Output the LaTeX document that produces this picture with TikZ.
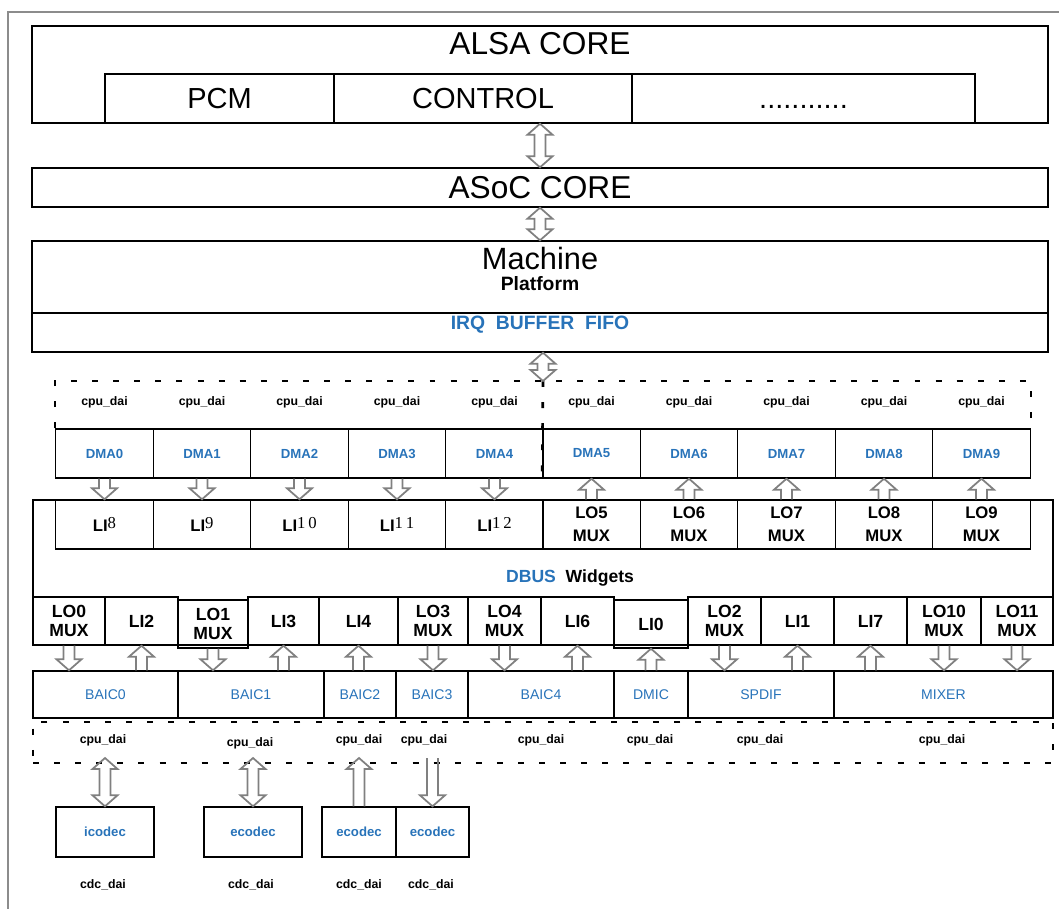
\documentclass[tikz,border=0pt]{standalone}
\usepackage{fontspec}
\setmainfont{Liberation Sans}
\newfontfamily\digf{Liberation Serif}
\usetikzlibrary{calc,positioning}
\definecolor{dbblue}{RGB}{40,115,185}

% hollow block arrows (x is taken from the first point)
\newcommand{\ashaft}{0.11cm}
\newcommand{\ahead}{0.25cm}
\newcommand{\alen}{0.22cm}
\newcommand{\arrdn}[2]{\draw[blk] let \p1=(#1), \p2=(#2) in
  (\x1-\ashaft,\y1) -- (\x1-\ashaft,\y2+\alen) -- (\x1-\ahead,\y2+\alen) -- (\x1,\y2)
  -- (\x1+\ahead,\y2+\alen) -- (\x1+\ashaft,\y2+\alen) -- (\x1+\ashaft,\y1);}
\newcommand{\arrup}[2]{\draw[blk] let \p1=(#1), \p2=(#2) in
  (\x1-\ashaft,\y2) -- (\x1-\ashaft,\y1-\alen) -- (\x1-\ahead,\y1-\alen) -- (\x1,\y1)
  -- (\x1+\ahead,\y1-\alen) -- (\x1+\ashaft,\y1-\alen) -- (\x1+\ashaft,\y2);}
\newcommand{\arrbi}[2]{\draw[blk] let \p1=(#1), \p2=(#2) in
  (\x1,\y1) -- (\x1+\ahead,\y1-\alen) -- (\x1+\ashaft,\y1-\alen) -- (\x1+\ashaft,\y2+\alen)
  -- (\x1+\ahead,\y2+\alen) -- (\x1,\y2) -- (\x1-\ahead,\y2+\alen) -- (\x1-\ashaft,\y2+\alen)
  -- (\x1-\ashaft,\y1-\alen) -- (\x1-\ahead,\y1-\alen) -- cycle;}
\newcommand{\linum}[1]{LI\raisebox{1.5pt}{\digf\mdseries #1}}

\begin{document}
\begin{tikzpicture}[
  box/.style={draw, line width=0.8pt, inner sep=0pt, align=center},
  cell/.style={box, minimum width=1.95cm, minimum height=0.98cm},
  dashln/.style={line width=1.5pt, dash pattern=on 3.4pt off 8.6pt},
  blk/.style={draw=black!50, line width=1pt, line join=miter},
  big/.style={font=\fontsize{18}{20}\selectfont},
  mid/.style={font=\fontsize{16.5}{18}\selectfont},
  lbl/.style={font=\fontsize{7}{8}\selectfont\bfseries},
  dmat/.style={font=\fontsize{7.5}{8}\selectfont\bfseries, text=dbblue},
  port/.style={font=\fontsize{9.5}{13}\selectfont\bfseries, align=center},
  portl/.style={font=\fontsize{10}{10.5}\selectfont\bfseries, align=center},
  baict/.style={font=\fontsize{8}{9}\selectfont, text=dbblue}
]
\useasboundingbox (0,0) rectangle (21.18,-18.18);
\draw[black!45, line width=1.1pt] (0.16,-18.18) -- (0.16,-0.24) -- (21.18,-0.24);

% alsa / asoc / machine
\node[box, minimum width=20.32cm, minimum height=1.94cm] (alsa) at (10.80,-1.49) {};
\node[big] (alsat) at (10.80,-0.87) {ALSA CORE};
\node[box, mid, minimum width=4.58cm, minimum height=0.98cm] (pcm) at (4.39,-1.97) {PCM};
\node[box, mid, minimum width=5.96cm, minimum height=0.98cm] (ctl) at (9.66,-1.97) {CONTROL};
\node[box, mid, minimum width=6.86cm, minimum height=0.98cm] (etc) at (16.07,-1.97) {\vphantom{C}...........};
\node[box, big, minimum width=20.32cm, minimum height=0.78cm] (asoc) at (10.80,-3.75) {ASoC CORE};
\node[box, minimum width=20.32cm, minimum height=1.44cm] (mach) at (10.80,-5.54) {};
\node[font=\fontsize{17.5}{19}\selectfont] (macht) at (10.80,-5.18) {Machine};
\node[font=\fontsize{11}{12}\selectfont\bfseries] (platt) at (10.80,-5.68) {Platform};
\node[box, minimum width=20.32cm, minimum height=0.78cm] (irq) at (10.80,-6.65) {};
\node[font=\fontsize{11}{12}\selectfont\bfseries, text=dbblue] (irqt) at (10.80,-6.49) {IRQ\ \ BUFFER\ \ FIFO};
\arrbi{alsa.south}{asoc.north}
\arrbi{asoc.south}{mach.north}

% dma channels
\node[lbl] (cd0) at (2.09,-8.04) {cpu\_dai};
\node[lbl] (cd1) at (4.04,-8.04) {cpu\_dai};
\node[lbl] (cd2) at (5.99,-8.04) {cpu\_dai};
\node[lbl] (cd3) at (7.94,-8.04) {cpu\_dai};
\node[lbl] (cd4) at (9.89,-8.04) {cpu\_dai};
\node[lbl] (cd5) at (11.83,-8.04) {cpu\_dai};
\node[lbl] (cd6) at (13.78,-8.04) {cpu\_dai};
\node[lbl] (cd7) at (15.73,-8.04) {cpu\_dai};
\node[lbl] (cd8) at (17.68,-8.04) {cpu\_dai};
\node[lbl] (cd9) at (19.63,-8.04) {cpu\_dai};
\node[cell, dmat] (dma0) at (2.09,-9.07) {DMA0};
\node[cell, dmat] (dma1) at (4.04,-9.07) {DMA1};
\node[cell, dmat] (dma2) at (5.99,-9.07) {DMA2};
\node[cell, dmat] (dma3) at (7.94,-9.07) {DMA3};
\node[cell, dmat] (dma4) at (9.89,-9.07) {DMA4};
\node[cell, dmat] (dma5) at (11.83,-9.07) {DMA5};
\node[cell, dmat] (dma6) at (13.78,-9.07) {DMA6};
\node[cell, dmat] (dma7) at (15.73,-9.07) {DMA7};
\node[cell, dmat] (dma8) at (17.68,-9.07) {DMA8};
\node[cell, dmat] (dma9) at (19.63,-9.07) {DMA9};
\coordinate (updash) at (10.86,-7.62);
\draw[dashln] (dma0.north west) |- (updash) -| (dma9.north east);
\draw[dashln] (updash) -- (dma5.south west);
\arrbi{irq.south -| updash}{updash}

% dbus widgets
\node[box, minimum width=20.40cm, minimum height=2.90cm] (dbus) at (10.86,-11.45) {};
\node[font=\fontsize{10}{11}\selectfont\bfseries] (dbt) at (11.40,-11.56) {\textcolor{dbblue}{DBUS}\ \ Widgets};
\node[cell, port] (li8) at (2.09,-10.49) {\linum{8}};
\node[cell, port] (li9) at (4.04,-10.49) {\linum{9}};
\node[cell, port] (li10) at (5.99,-10.49) {\linum{1\,0}};
\node[cell, port] (li11) at (7.94,-10.49) {\linum{1\,1}};
\node[cell, port] (li12) at (9.89,-10.49) {\linum{1\,2}};
\node[cell, port] (lo5) at (11.83,-10.49) {LO5\\MUX};
\node[cell, port] (lo6) at (13.78,-10.49) {LO6\\MUX};
\node[cell, port] (lo7) at (15.73,-10.49) {LO7\\MUX};
\node[cell, port] (lo8) at (17.68,-10.49) {LO8\\MUX};
\node[cell, port] (lo9) at (19.63,-10.49) {LO9\\MUX};
\arrdn{dma0.south}{li8.north}
\arrdn{dma1.south}{li9.north}
\arrdn{dma2.south}{li10.north}
\arrdn{dma3.south}{li11.north}
\arrdn{dma4.south}{li12.north}
\arrup{dma5.south}{lo5.north}
\arrup{dma6.south}{lo6.north}
\arrup{dma7.south}{lo7.north}
\arrup{dma8.south}{lo8.north}
\arrup{dma9.south}{lo9.north}

\node[box, portl, minimum width=1.44cm, minimum height=0.96cm] (lo0) at (1.38,-12.42) {LO0\\MUX};
\node[box, portl, minimum width=1.46cm, minimum height=0.96cm] (li2) at (2.83,-12.42) {LI2};
\node[box, portl, minimum width=1.40cm, minimum height=0.96cm] (lo1) at (4.26,-12.48) {LO1\\MUX};
\node[box, portl, minimum width=1.42cm, minimum height=0.96cm] (li3) at (5.67,-12.42) {LI3};
\node[box, portl, minimum width=1.58cm, minimum height=0.96cm] (li4) at (7.17,-12.42) {LI4};
\node[box, portl, minimum width=1.40cm, minimum height=0.96cm] (lo3) at (8.66,-12.42) {LO3\\MUX};
\node[box, portl, minimum width=1.46cm, minimum height=0.96cm] (lo4) at (10.09,-12.42) {LO4\\MUX};
\node[box, portl, minimum width=1.46cm, minimum height=0.96cm] (li6) at (11.55,-12.42) {LI6};
\node[box, portl, minimum width=1.48cm, minimum height=0.96cm] (li0) at (13.02,-12.48) {LI0};
\node[box, portl, minimum width=1.46cm, minimum height=0.96cm] (lo2) at (14.49,-12.42) {LO2\\MUX};
\node[box, portl, minimum width=1.46cm, minimum height=0.96cm] (li1) at (15.95,-12.42) {LI1};
\node[box, portl, minimum width=1.46cm, minimum height=0.96cm] (li7) at (17.41,-12.42) {LI7};
\node[box, portl, minimum width=1.48cm, minimum height=0.96cm] (lo10) at (18.88,-12.42) {LO10\\MUX};
\node[box, portl, minimum width=1.44cm, minimum height=0.96cm] (lo11) at (20.34,-12.42) {LO11\\MUX};

% interfaces
\node[box, baict, minimum width=2.90cm, minimum height=0.94cm] (baic0) at (2.11,-13.89) {BAIC0};
\node[box, baict, minimum width=2.92cm, minimum height=0.94cm] (baic1) at (5.02,-13.89) {BAIC1};
\node[box, baict, minimum width=1.44cm, minimum height=0.94cm] (baic2) at (7.20,-13.89) {BAIC2};
\node[box, baict, minimum width=1.44cm, minimum height=0.94cm] (baic3) at (8.64,-13.89) {BAIC3};
\node[box, baict, minimum width=2.92cm, minimum height=0.94cm] (baic4) at (10.82,-13.89) {BAIC4};
\node[box, baict, minimum width=1.48cm, minimum height=0.94cm] (dmic) at (13.02,-13.89) {DMIC};
\node[box, baict, minimum width=2.92cm, minimum height=0.94cm] (spdif) at (15.22,-13.89) {SPDIF};
\node[box, baict, minimum width=4.38cm, minimum height=0.94cm] (mixer) at (18.87,-13.89) {MIXER};
\arrdn{lo0.south}{baic0.north}
\arrup{li2.south}{baic0.north}
\arrdn{lo1.south}{baic1.north}
\arrup{li3.south}{baic1.north}
\arrup{li4.south}{baic2.north}
\arrdn{lo3.south}{baic3.north}
\arrdn{lo4.south}{baic4.north}
\arrup{li6.south}{baic4.north}
\arrup{li0.south}{dmic.north}
\arrdn{lo2.south}{spdif.north}
\arrup{li1.south}{spdif.north}
\arrup{li7.south}{mixer.north}
\arrdn{lo10.south}{mixer.north}
\arrdn{lo11.south}{mixer.north}

\node[dashln, draw, inner sep=0pt, minimum width=20.40cm, minimum height=0.82cm] (lodash) at (10.86,-14.85) {};
\node[lbl] (ld0) at (2.06,-14.80) {cpu\_dai};
\node[lbl] (ld1) at (5.00,-14.86) {cpu\_dai};
\node[lbl] (ld2) at (7.18,-14.80) {cpu\_dai};
\node[lbl] (ld3) at (8.48,-14.80) {cpu\_dai};
\node[lbl] (ld4) at (10.82,-14.80) {cpu\_dai};
\node[lbl] (ld5) at (13.00,-14.80) {cpu\_dai};
\node[lbl] (ld6) at (15.20,-14.80) {cpu\_dai};
\node[lbl] (ld7) at (18.84,-14.80) {cpu\_dai};

% codecs
\coordinate (ctop) at (0,-15.16);
\node[box, dmat, minimum width=1.96cm, minimum height=1.00cm] (ic) at (2.10,-16.64) {icodec};
\node[box, dmat, minimum width=1.96cm, minimum height=1.00cm] (ec1) at (5.06,-16.64) {ecodec};
\node[box, dmat, minimum width=1.48cm, minimum height=1.00cm] (ec2) at (7.18,-16.64) {ecodec};
\node[box, dmat, minimum width=1.46cm, minimum height=1.00cm] (ec3) at (8.65,-16.64) {ecodec};
\arrbi{ic.north |- ctop}{ic.north}
\arrbi{ec1.north |- ctop}{ec1.north}
\arrup{ec2.north |- ctop}{ec2.north}
\arrdn{ec3.north |- ctop}{ec3.north}
\node[lbl] (cc0) at (2.06,-17.70) {cdc\_dai};
\node[lbl] (cc1) at (5.02,-17.70) {cdc\_dai};
\node[lbl] (cc2) at (7.18,-17.70) {cdc\_dai};
\node[lbl] (cc3) at (8.62,-17.70) {cdc\_dai};
\end{tikzpicture}
\end{document}
